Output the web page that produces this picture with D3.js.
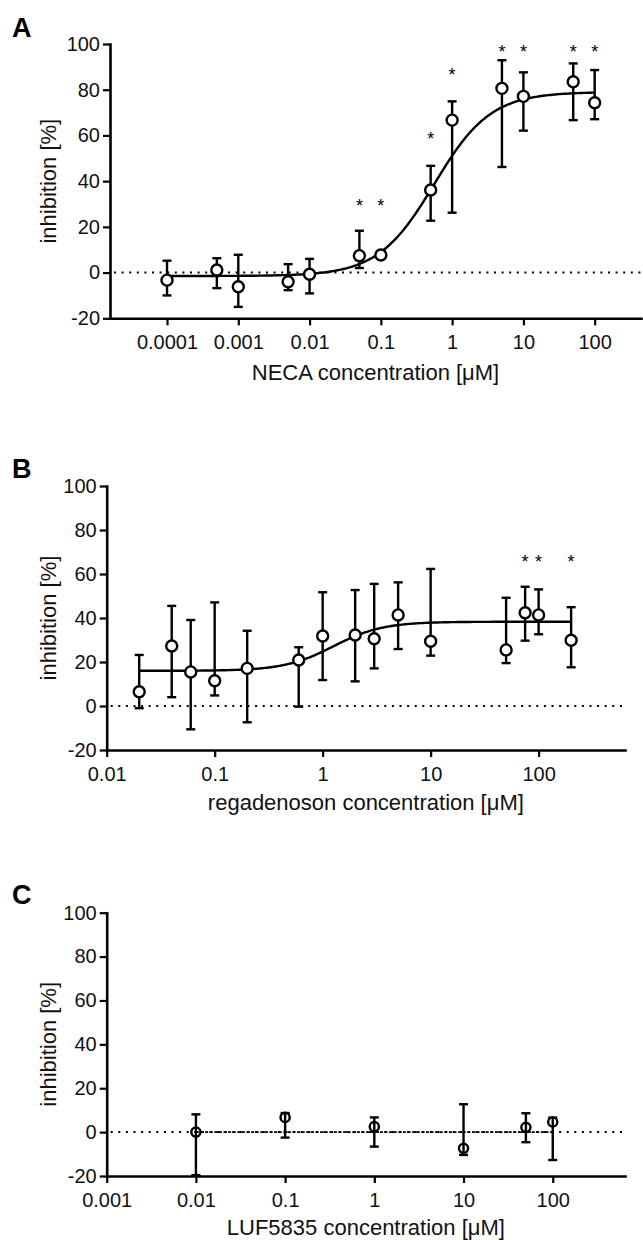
<!DOCTYPE html>
<html>
<head>
<meta charset="utf-8">
<script src="https://cdn.jsdelivr.net/npm/d3@7"></script>
<style>
    body { margin: 0; background: #fff; }
    svg { display: block; font-family: "Liberation Sans", Arial, sans-serif; }
</style>
</head>
<body>
<div id="chart"></div>
<script>
'use strict';

/*
    INHIBITION DOSE-RESPONSE PANELS
*/

// A: NECA
const concA = [0.0001, 0.0005, 0.001, 0.005, 0.01, 0.05, 0.1, 0.5, 1, 5, 10, 50, 100]
const meanA = [-3.3, 1.1, -6.2, -4.0, -0.7, 7.4, 7.7, 36.1, 66.7, 80.6, 77.1, 83.5, 74.3]
const upperA = [5.2, 6.3, 7.8, 3.7, 6.0, 18.3, 7.7, 46.7, 74.9, 92.9, 87.6, 91.5, 88.6]
const lowerA = [-10.0, -6.8, -15.0, -7.7, -9.1, 2.0, 7.7, 22.7, 26.2, 46.2, 62.1, 66.7, 67.1]
const starXA = [0.05, 0.1, 0.5, 1, 5, 10, 50, 100]
const starYA = [31, 31, 60.2, 88.3, 98.6, 98.6, 98.6, 98.6]
// fit: bottom, top, logEC50, hill slope
const fitA = [-1.5, 79, -0.25, 1.1]
const fitRangeA = [0.0001, 100]
const ticksA = [0.0001, 0.001, 0.01, 0.1, 1, 10, 100]

// B: regadenoson
const concB = [0.02, 0.04, 0.06, 0.1, 0.2, 0.6, 1, 2, 3, 5, 10, 50, 75, 100, 200]
const meanB = [6.5, 27.3, 15.5, 11.5, 17.1, 20.9, 31.8, 32.3, 30.6, 41.4, 29.4, 25.5, 42.4, 41.4, 29.9]
const upperB = [23.2, 45.5, 39.1, 47.1, 34.2, 26.7, 51.7, 52.7, 55.5, 56.2, 62.3, 49.2, 54.2, 53.0, 44.9]
const lowerB = [-1.0, 4.0, -10.6, 4.8, -7.4, -0.3, 11.8, 11.2, 17.1, 25.9, 22.9, 19.5, 29.7, 32.6, 17.6]
const starXB = [75, 100, 200]
const starYB = [67.6, 67.6, 67.6]
const fitB = [16, 38.3, 0.1, 1.9]
const fitRangeB = [0.02, 200]
const ticksB = [0.01, 0.1, 1, 10, 100]

// C: LUF5835
const concC = [0.01, 0.1, 1, 10, 50, 100]
const meanC = [0, 6.7, 2.5, -7.4, 2.2, 4.6]
const upperC = [8.1, 8.7, 6.7, 12.7, 8.6, 6.6]
const lowerC = [-19.6, -2.5, -6.6, -10.4, -4.6, -12.7]
const flatRangeC = [0.01, 100]
const ticksC = [0.001, 0.01, 0.1, 1, 10, 100]

const yTicks = [-20, 0, 20, 40, 60, 80, 100]

const width = 643,
    height = 1240;

var svg = d3.select("#chart").append("svg")
    .attr("width", width)
    .attr("height", height)

svg.append("rect").attr("width", width).attr("height", height).attr("fill", "#fff")

const ink = "#000"

const drawPanel = (p) => {
    const x = d3.scaleLog().domain(p.xDomain).range([p.left, p.right])
    const y = d3.scaleLinear().domain([-20, 100]).range([p.bottom, p.top])
    const g = svg.append("g")

    // dotted zero line
    g.append("line")
        .attr("x1", p.left + 4).attr("x2", p.right)
        .attr("y1", y(0)).attr("y2", y(0))
        .attr("stroke", ink)
        .attr("stroke-width", 2)
        .attr("stroke-dasharray", "2,5.6")

    // x axis
    const xa = g.append("g")
        .attr("transform", `translate(0,${p.bottom})`)
        .call(d3.axisBottom(x).tickValues(p.ticks).tickFormat(d => String(d))
            .tickSize(7).tickSizeOuter(0).tickPadding(10))
    // y axis
    const ya = g.append("g")
        .attr("transform", `translate(${p.left},0)`)
        .call(d3.axisLeft(y).tickValues(yTicks).tickFormat(d => String(d))
            .tickSize(7).tickSizeOuter(0).tickPadding(3))

    ;[xa, ya].forEach(a => {
        a.attr("font-family", null).attr("font-size", 20)
        a.select(".domain").attr("stroke", ink).attr("stroke-width", 2.6).attr("stroke-linecap", "square")
        a.selectAll(".tick line").attr("stroke", ink).attr("stroke-width", 2.2)
        a.selectAll(".tick text").attr("fill", "#111")
    })

    // axis titles
    g.append("text")
        .attr("x", (p.left + p.right) / 2)
        .attr("y", p.bottom + p.titleGap)
        .attr("text-anchor", "middle")
        .attr("font-size", 22)
        .attr("fill", "#111")
        .text(p.xTitle)

    g.append("text")
        .attr("transform", `translate(56,${(p.top + p.bottom) / 2}) rotate(-90)`)
        .attr("text-anchor", "middle")
        .attr("font-size", 22)
        .attr("fill", "#111")
        .text("inhibition [%]")

    // panel letter
    g.append("text")
        .attr("x", 12).attr("y", p.letterY)
        .attr("font-size", 27)
        .attr("font-weight", "bold")
        .text(p.letter)

    // fit curve
    const line = d3.line().x(d => x(d[0])).y(d => y(d[1]))
    if (p.fit) {
        const [bot, top, logEC, hill] = p.fit
        const l0 = Math.log10(p.fitRange[0]), l1 = Math.log10(p.fitRange[1])
        const pts = d3.range(0, 241).map(i => {
            const lx = l0 + (l1 - l0) * i / 240
            return [Math.pow(10, lx), bot + (top - bot) / (1 + Math.pow(10, (logEC - lx) * hill))]
        })
        g.append("path")
            .datum(pts)
            .attr("d", line)
            .attr("fill", "none")
            .attr("stroke", ink)
            .attr("stroke-width", 2.4)
    }
    if (p.flatRange) {
        g.append("path")
            .datum(p.flatRange.map(c => [c, 0]))
            .attr("d", line)
            .attr("fill", "none")
            .attr("stroke", ink)
            .attr("stroke-width", 1.6)
            .attr("stroke-dasharray", "3,1.6")
    }

    // error bars
    const pts = p.conc.map((c, i) => ({ c: c, m: p.mean[i], hi: p.upper[i], lo: p.lower[i] }))
    const eb = g.append("g").attr("stroke", ink).attr("stroke-width", 2.4)
    pts.forEach(d => {
        if (d.hi === d.lo) return
        eb.append("line").attr("x1", x(d.c)).attr("x2", x(d.c)).attr("y1", y(d.hi)).attr("y2", y(d.lo))
        ;[d.hi, d.lo].forEach(v => {
            eb.append("line")
                .attr("x1", x(d.c) - 4.5).attr("x2", x(d.c) + 4.5)
                .attr("y1", y(v)).attr("y2", y(v))
        })
    })

    // points
    g.append("g")
        .selectAll("circle")
        .data(pts)
        .enter().append("circle")
        .attr("cx", d => x(d.c))
        .attr("cy", d => y(d.m))
        .attr("r", p.r)
        .attr("fill", p.fill)
        .attr("stroke", ink)
        .attr("stroke-width", 2.4)

    // significance stars
    if (p.starX) {
        g.append("g")
            .selectAll("text")
            .data(p.starX.map((c, i) => [c, p.starY[i]]))
            .enter().append("text")
            .attr("x", d => x(d[0]))
            .attr("y", d => y(d[1]) + 10.5)
            .attr("text-anchor", "middle")
            .attr("font-size", 18)
            .text("*")
    }
}

drawPanel({
    letter: "A", letterY: 37,
    left: 110, right: 641, top: 44, bottom: 318.3,
    xDomain: [Math.pow(10, -4.8), Math.pow(10, 2.65)],
    ticks: ticksA, xTitle: "NECA concentration [\u03bcM]", titleGap: 62,
    conc: concA, mean: meanA, upper: upperA, lower: lowerA,
    starX: starXA, starY: starYA,
    fit: fitA, fitRange: fitRangeA,
    r: 5.5, fill: "#fff"
})

drawPanel({
    letter: "B", letterY: 478,
    left: 106.7, right: 625, top: 486, bottom: 750,
    xDomain: [0.01, Math.pow(10, 2.8)],
    ticks: ticksB, xTitle: "regadenoson concentration [\u03bcM]", titleGap: 60,
    conc: concB, mean: meanB, upper: upperB, lower: lowerB,
    starX: starXB, starY: starYB,
    fit: fitB, fitRange: fitRangeB,
    r: 5.5, fill: "#fff"
})

drawPanel({
    letter: "C", letterY: 904,
    left: 106.7, right: 625, top: 912.7, bottom: 1176,
    xDomain: [0.001, Math.pow(10, 2.81)],
    ticks: ticksC, xTitle: "LUF5835 concentration [\u03bcM]", titleGap: 59,
    conc: concC, mean: meanC, upper: upperC, lower: lowerC,
    flatRange: flatRangeC,
    r: 4.6, fill: "none"
})
</script>
</body>
</html>
